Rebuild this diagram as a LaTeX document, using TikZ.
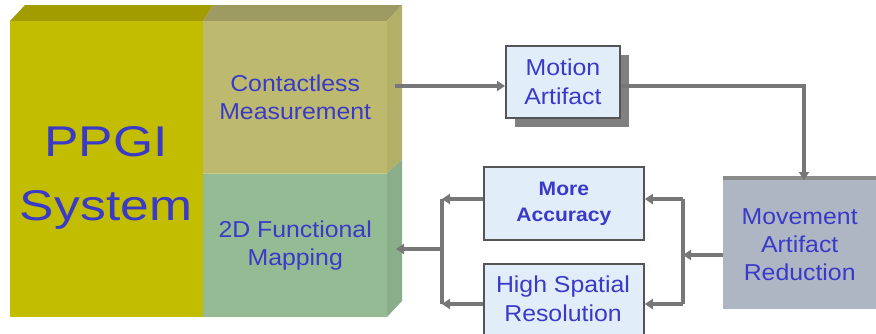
\documentclass[tikz,border=0pt]{standalone}
\usepackage{fontspec}
\setmainfont{Liberation Sans}[FakeStretch=1.08]
\newfontfamily\bigfont{Liberation Sans}[FakeStretch=1.2]
\usetikzlibrary{arrows.meta,shadows}
\definecolor{olivefront}{HTML}{C2BD00}
\definecolor{olivetop}{HTML}{A29C00}
\definecolor{khakifront}{HTML}{BDBA6F}
\definecolor{khakitop}{HTML}{9D9B62}
\definecolor{khakiside}{HTML}{B2AF68}
\definecolor{greenfront}{HTML}{95BB95}
\definecolor{greenside}{HTML}{89AE89}
\definecolor{txtblue}{HTML}{3A3AC8}
\definecolor{boxfill}{HTML}{E2EDFA}
\definecolor{boxline}{HTML}{555555}
\definecolor{redfill}{HTML}{AEB6C4}
\definecolor{conn}{HTML}{777777}
\tikzset{
  face/.style={inner sep=0pt, anchor=north west, text=txtblue, align=center, font=\fontsize{23}{28}\selectfont},
  lightbox/.style={draw=boxline, line width=1.8pt, fill=boxfill, text=txtblue, align=center, inner sep=0pt, anchor=north west, font=\fontsize{23}{28.5}\selectfont},
  shbox/.style={lightbox, drop shadow={shadow xshift=9pt, shadow yshift=-9pt, fill=gray, opacity=1}},
  conn/.style={draw=conn, line width=3.2pt},
  arr/.style={conn, -{Triangle[width=10pt,length=8pt]}}
}
\begin{document}
\begin{tikzpicture}[x=1pt,y=-1pt]
\useasboundingbox (0,0) rectangle (876,333);
\clip (0,0) rectangle (876,333);
% top face
\fill[olivetop] (10,21) -- (25,5) -- (213,5) -- (203,21) -- cycle;
\fill[khakitop] (203,21) -- (213,5) -- (402,5) -- (387,21) -- cycle;
% side face
\fill[khakiside] (387,21) -- (402,5) -- (402,160) -- (387,173) -- cycle;
\fill[greenside] (387,173) -- (402,160) -- (402,301) -- (387,317) -- cycle;
% front faces
\node[face, fill=olivefront, minimum width=193pt, minimum height=296pt] (ppgiface) at (10,21) {};
\node[text=txtblue, align=center, font=\bigfont\fontsize{43}{64}\selectfont] (ppgi) at (106,178) {PPGI\\System};
\node[face, fill=khakifront, minimum width=184pt, minimum height=152pt] (cm) at (203,21) {Contactless\\Measurement};
\node[face, fill=greenfront, minimum width=184pt, minimum height=144pt] (fm) at (203,173) {2D Functional\\Mapping};
\draw[draw=khakifront!80!white, line width=0.8pt] (203,173) -- (387,173);
% boxes
\node[shbox, minimum width=114pt, minimum height=72pt] (ma) at (505,45) {Motion\\Artifact};
\fill[conn!85!white] (723,176) rectangle (876,180);
\node[inner sep=0pt, anchor=north west, fill=redfill, minimum width=153pt, minimum height=129pt, text=txtblue, align=center, font=\fontsize{23}{28}\selectfont] (mar) at (723,180) {Movement\\Artifact\\Reduction};
\node[lightbox, minimum width=160pt, minimum height=73pt, font=\bfseries\fontsize{19.5}{26}\selectfont] (acc) at (483,166) {More\\Accuracy};
\node[lightbox, minimum width=160pt, minimum height=80pt, anchor=north west] (hsr) at (483,263) {};
\node[text=txtblue, align=center, font=\fontsize{23}{28.5}\selectfont] (hsrtext) at (563,299) {High Spatial\\Resolution};
% connectors
\coordinate (cmout) at (395,86);
\coordinate (fmin) at (396,249);
\coordinate (rbr) at (683,255);
\coordinate (lbr) at (442,249);
\coordinate (turn) at (804,86);
\coordinate (rtop) at (683,199);
\coordinate (rbot) at (683,304);
\coordinate (ltop) at (442,199);
\coordinate (lbot) at (442,304);
\draw[arr] (cmout) -- (cmout -| ma.west);
\draw[arr] (ma.east |- cmout) -- (turn) -- (turn |- mar.north);
\draw[conn] (rtop) -- (rbot);
\draw[arr] (mar.west |- rbr) -- (rbr);
\draw[arr] (rtop) -- (rtop -| acc.east);
\draw[arr] (rbot) -- (rbot -| hsr.east);
\draw[conn] (ltop) -- (lbot);
\draw[arr] (ltop -| acc.west) -- (ltop);
\draw[arr] (lbot -| hsr.west) -- (lbot);
\draw[arr] (lbr) -- (fmin);
\end{tikzpicture}
\end{document}
